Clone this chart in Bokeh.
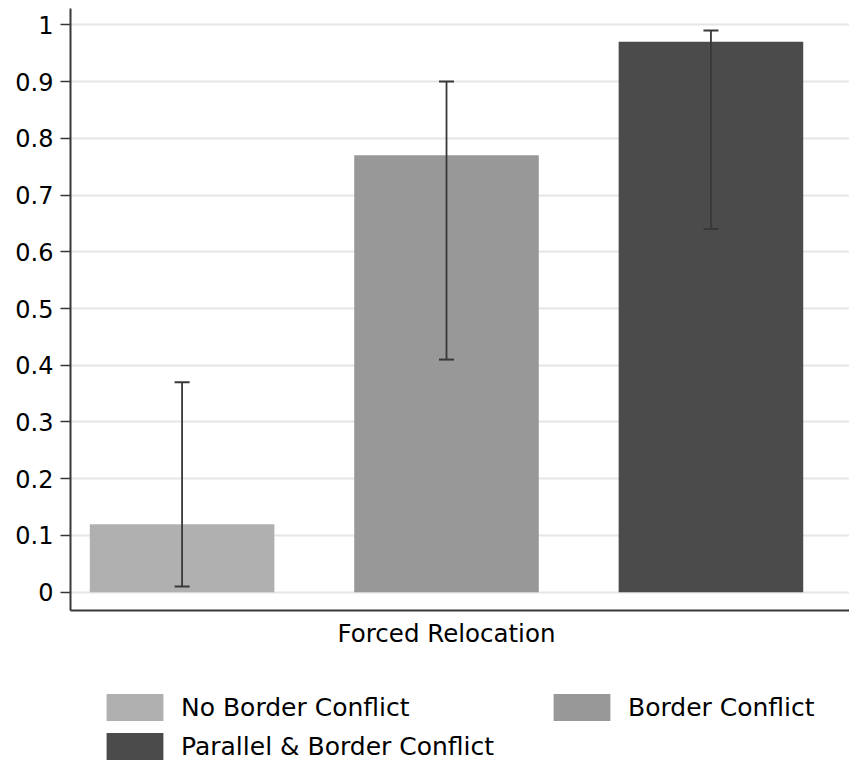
from bokeh.plotting import figure
from bokeh.layouts import column
from bokeh.models import (Range1d, FixedTicker, Whisker, TeeHead, ColumnDataSource,
                          Legend, LegendItem)
from bokeh.embed import file_html
from bokeh.resources import INLINE

# Share of cases with forced relocation, by conflict type, with 95% intervals
groups = ["No Border Conflict", "Border Conflict", "Parallel & Border Conflict"]
means = [0.12, 0.77, 0.97]
lower = [0.01, 0.41, 0.64]
upper = [0.37, 0.90, 0.99]
colors = ["#b0b0b0", "#989898", "#4b4b4b"]
x_title = "Forced Relocation"
y_ticks = [0, 0.1, 0.2, 0.3, 0.4, 0.5, 0.6, 0.7, 0.8, 0.9, 1]
y_tick_labels = ["0", "0.1", "0.2", "0.3", "0.4", "0.5", "0.6", "0.7", "0.8", "0.9", "1"]

FONT = "DejaVu Sans"
ERR = "#383838"

p = figure(width=849, height=650, output_backend="svg", toolbar_location=None,
           x_range=Range1d(-0.422, 2.524), y_range=Range1d(-0.0322, 1.0287),
           min_border_left=70, min_border_top=8, min_border_right=0,
           min_border_bottom=39)
p.outline_line_color = None
p.background_fill_color = "white"
p.border_fill_color = "white"

xs = list(range(len(groups)))
src = ColumnDataSource(dict(x=xs, top=means, lower=lower, upper=upper))

for i in xs:
    p.vbar(x=[xs[i]], top=[means[i]], bottom=0, width=0.698,
           fill_color=colors[i], line_color=None)

whisk = Whisker(source=src, base="x", lower="lower", upper="upper",
                line_color=ERR, line_width=1.8, level="overlay",
                upper_head=TeeHead(size=15, line_color=ERR, line_width=2),
                lower_head=TeeHead(size=15, line_color=ERR, line_width=2))
p.add_layout(whisk)

# y axis
p.yaxis.ticker = FixedTicker(ticks=y_ticks)
p.yaxis.major_label_overrides = {t: s for t, s in zip(y_ticks, y_tick_labels)}
p.yaxis.major_label_text_font = FONT
p.yaxis.major_label_text_font_size = "24px"
p.yaxis.major_label_text_color = "black"
p.yaxis.major_label_standoff = 7
p.yaxis.major_tick_out = 10
p.yaxis.major_tick_in = 0
p.yaxis.major_tick_line_color = ERR
p.yaxis.major_tick_line_width = 1.5
p.yaxis.minor_tick_line_color = None
p.yaxis.axis_line_color = ERR
p.yaxis.axis_line_width = 2

# x axis: a single group title under the middle bar
p.xaxis.ticker = FixedTicker(ticks=[1])
p.xaxis.major_label_overrides = {1: x_title}
p.xaxis.major_label_text_font = FONT
p.xaxis.major_label_text_font_size = "24.5px"
p.xaxis.major_label_text_color = "black"
p.xaxis.major_label_standoff = 8
p.xaxis.major_tick_out = 0
p.xaxis.major_tick_in = 0
p.xaxis.minor_tick_out = 0
p.xaxis.major_tick_line_color = None
p.xaxis.minor_tick_line_color = None
p.xaxis.axis_line_color = ERR
p.xaxis.axis_line_width = 2

p.xgrid.grid_line_color = None
p.ygrid.ticker = FixedTicker(ticks=y_ticks)
p.ygrid.grid_line_color = "#e6e6e6"
p.ygrid.grid_line_width = 2

# legend panel under the chart, two columns; its frame lines up with the chart's
leg = figure(width=849, height=113, output_backend="svg", toolbar_location=None,
             x_range=Range1d(0, 1), y_range=Range1d(0, 1),
             x_axis_location=None, y_axis_location=None,
             min_border_left=70, min_border_right=0, min_border_top=0,
             min_border_bottom=0)
leg.outline_line_color = None
leg.xgrid.visible = False
leg.ygrid.visible = False
# legend-only proxies, placed outside the visible range
swatches = [leg.vbar(x=[-5], top=[-5], bottom=-6, width=0.1,
                     fill_color=colors[i], line_color=None)
            for i in xs]

legend = Legend(items=[LegendItem(label=groups[i], renderers=[swatches[i]]) for i in xs],
                orientation="horizontal", ncols=2, location=(29, 0),
                glyph_width=71, glyph_height=34, label_standoff=11,
                label_width=360, spacing=5, padding=0, margin=0,
                border_line_color=None, background_fill_alpha=0,
                label_text_font=FONT, label_text_font_size="25px",
                label_text_color="black")
leg.add_layout(legend, "center")

open("out.html", "w").write(file_html(column(p, leg, spacing=0), INLINE))
